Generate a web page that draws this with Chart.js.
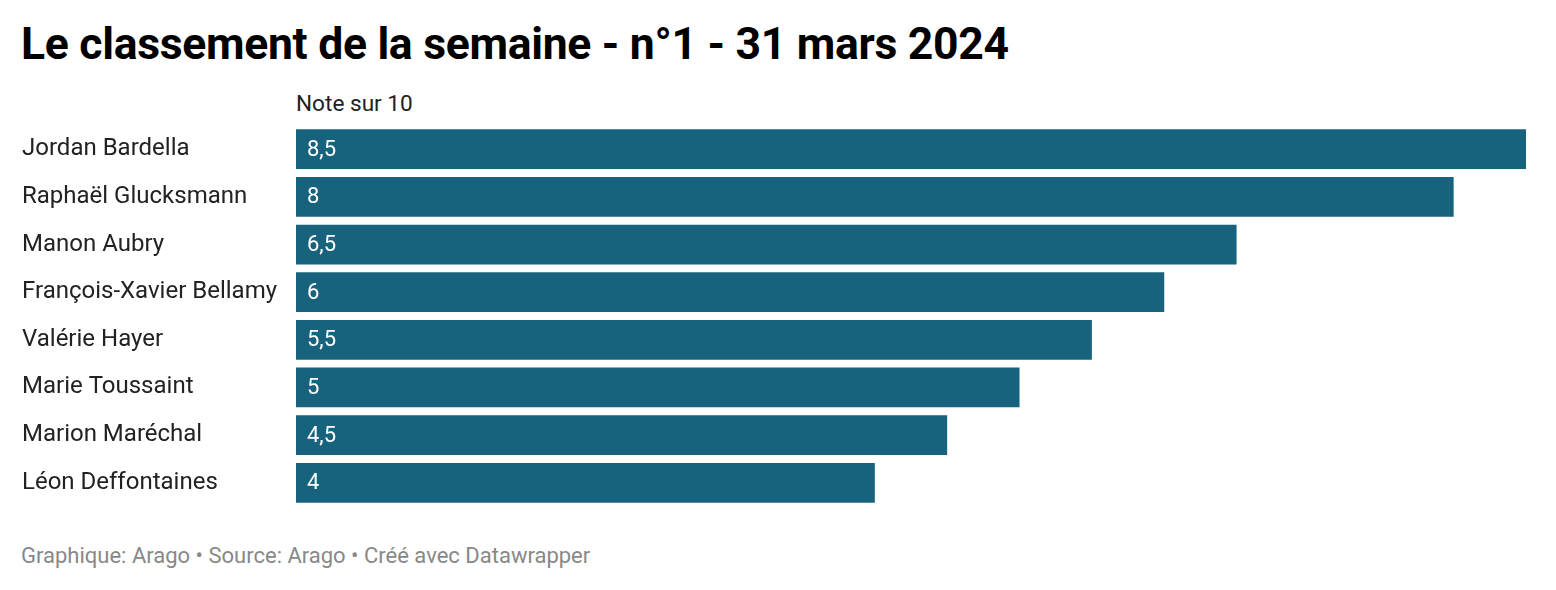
<!DOCTYPE html>
<html><head><meta charset="utf-8">
<script src="https://cdn.jsdelivr.net/npm/chart.js@4"></script>
<style>
body{margin:0;width:1556px;height:590px;background:#fff;font-family:Roboto,sans-serif;position:relative;overflow:hidden}
#t{position:absolute;left:21px;top:18px;font-size:44.5px;font-weight:700;color:#000;letter-spacing:-0.3px}
#s{position:absolute;left:296px;top:90px;font-size:22.6px;color:#222}
#f{position:absolute;left:21px;top:543px;font-size:22px;color:#888}
#w{position:absolute;left:22px;top:111px;width:1504px;height:410px}
</style></head><body>
<div id="t">Le classement de la semaine - n°1 - 31 mars 2024</div>
<div id="s">Note sur 10</div>
<div id="w"><canvas id="c"></canvas></div>
<div id="f">Graphique: Arago • Source: Arago • Créé avec Datawrapper</div>
<script>
const categories=["Jordan Bardella","Raphaël Glucksmann","Manon Aubry","François-Xavier Bellamy","Valérie Hayer","Marie Toussaint","Marion Maréchal","Léon Deffontaines"];
const values=[8.5,8,6.5,6,5.5,5,4.5,4];
const labelsPlugin={id:'vl',afterDatasetsDraw(ch){const m=ch.getDatasetMeta(0);const c=ch.ctx;c.save();c.font='22px Roboto';c.fillStyle='#fff';c.textBaseline='middle';
m.data.forEach((b,i)=>{c.fillText(String(values[i]).replace('.',','),b.base+11,b.y+1);});c.restore();}};
new Chart(document.getElementById('c'),{type:'bar',data:{labels:categories,datasets:[{data:values,backgroundColor:'#17627d',barPercentage:40/48,categoryPercentage:1}]},
options:{indexAxis:'y',responsive:true,maintainAspectRatio:false,animation:false,layout:{padding:0},
plugins:{legend:{display:false},tooltip:{enabled:false}},
scales:{x:{display:false,min:0,max:8.5},y:{grid:{display:false},border:{display:false},afterFit(a){a.width=274;},
ticks:{crossAlign:'far',padding:0,color:'#222',font:{family:'Roboto',size:24}}}}},plugins:[labelsPlugin]});
</script></body></html>
